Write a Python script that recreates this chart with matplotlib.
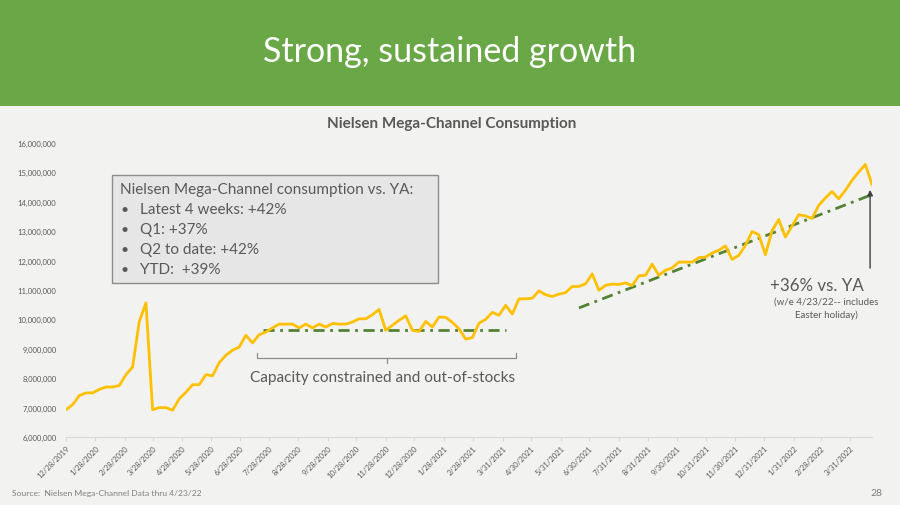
"""
Slide recreation: Nielsen Mega-Channel consumption, weekly.
"""

import matplotlib
matplotlib.use("Agg")
import matplotlib.pyplot as plt
import pandas as pd
from matplotlib.patches import Rectangle

plt.rcParams['font.family'] = ['Lato', 'DejaVu Sans']

# weekly consumption (millions), w/e 12/28/2019 .. 4/23/2022
first_week = "2019-12-28"
consumption_m = [
    6.93, 7.10, 7.41, 7.50, 7.50, 7.62, 7.70, 7.70, 7.75, 8.12,
    8.38, 9.93, 10.56, 6.93, 7.00, 7.00, 6.91, 7.30, 7.52, 7.78,
    7.78, 8.12, 8.08, 8.53, 8.78, 8.95, 9.06, 9.46, 9.20, 9.48,
    9.57, 9.71, 9.84, 9.84, 9.84, 9.71, 9.84, 9.71, 9.84, 9.74,
    9.86, 9.84, 9.84, 9.91, 10.02, 10.02, 10.16, 10.34, 9.63, 9.80,
    9.97, 10.12, 9.63, 9.59, 9.93, 9.74, 10.08, 10.07, 9.90, 9.68,
    9.33, 9.38, 9.87, 10.00, 10.24, 10.14, 10.48, 10.18, 10.70, 10.70,
    10.72, 10.97, 10.84, 10.78, 10.86, 10.91, 11.12, 11.12, 11.21, 11.55,
    10.99, 11.16, 11.20, 11.19, 11.24, 11.15, 11.48, 11.50, 11.88, 11.50,
    11.67, 11.75, 11.95, 11.95, 11.95, 12.10, 12.12, 12.26, 12.35, 12.50,
    12.04, 12.18, 12.52, 12.99, 12.88, 12.20, 13.02, 13.40, 12.80, 13.18,
    13.56, 13.52, 13.43, 13.88, 14.13, 14.35, 14.10, 14.39, 14.73, 15.01,
    15.27, 14.59,
]

tick_dates = [
    "2019-12-28", "2020-01-28", "2020-02-28", "2020-03-28", "2020-04-28",
    "2020-05-28", "2020-06-28", "2020-07-28", "2020-08-28", "2020-09-28",
    "2020-10-28", "2020-11-28", "2020-12-28", "2021-01-28", "2021-02-28",
    "2021-03-31", "2021-04-30", "2021-05-31", "2021-06-30", "2021-07-31",
    "2021-08-31", "2021-09-30", "2021-10-31", "2021-11-30", "2021-12-31",
    "2022-01-31", "2022-02-28", "2022-03-31",
]
y_ticks = [6e6, 7e6, 8e6, 9e6, 10e6, 11e6, 12e6, 13e6, 14e6, 15e6, 16e6]

# dash-dot trend guides
flat_dates = ["2020-07-22", "2021-04-03"]
flat_vals = [9.65e6, 9.65e6]
growth_dates = ["2021-06-19", "2022-04-21"]
growth_vals = [10.39e6, 14.22e6]

box_lines = [
    "Latest 4 weeks: +42%",
    "Q1: +37%",
    "Q2 to date: +42%",
    "YTD:  +39%",
]

W, H = 900, 506
GOLD = "#ffc000"
TREND = "#548235"
GREY = "#595959"

weeks = pd.date_range(first_week, periods=len(consumption_m), freq="7D")
values = [v * 1e6 for v in consumption_m]
ticks = pd.to_datetime(tick_dates)

fig = plt.figure(figsize=(9, 5.06), dpi=100, facecolor="#f2f2f0")

# green header band
fig.add_artist(Rectangle((0, 1 - 107 / H), 1, 107 / H, transform=fig.transFigure,
                         facecolor="#6aa847", edgecolor="none"))

ax = fig.add_axes([66 / W, 68 / H, 806 / W, 294 / H])
ax.set_facecolor("none")
ax.plot(weeks, values, color=GOLD, lw=2.0, solid_joinstyle="round", zorder=3)
ax.plot(pd.to_datetime(flat_dates), flat_vals, color=TREND, lw=2.0,
        linestyle=(0, (4, 2, 1, 2)), zorder=2)
ax.plot(pd.to_datetime(growth_dates), growth_vals, color=TREND, lw=2.0,
        linestyle=(0, (4, 2, 1, 2)), zorder=2)

ax.annotate("", xy=(pd.Timestamp("2022-04-21"), 14.5e6),
            xytext=(pd.Timestamp("2022-04-21"), 11.65e6),
            arrowprops=dict(arrowstyle="-|>", color="#404040", lw=1.0,
                            mutation_scale=8))

ax.set_xlim(weeks[0], weeks[-1])
ax.set_ylim(6e6, 16e6)
ax.set_xticks(ticks)
ax.set_xticklabels([f"{d.month}/{d.day}/{d.year}" for d in ticks], rotation=45,
                   ha="right", rotation_mode="anchor", fontsize=5.5, color=GREY)
ax.set_yticks(y_ticks)
ax.set_yticklabels([f"{int(v):,}" for v in y_ticks], fontsize=5.5, color=GREY)
ax.tick_params(axis="y", length=0, pad=7)
ax.tick_params(axis="x", length=3, color="#d9d9d9", pad=2)
for side in ["top", "right", "left"]:
    ax.spines[side].set_visible(False)
ax.spines["bottom"].set_color("#d9d9d9")
ax.spines["bottom"].set_linewidth(0.8)

# overlay in pixel coordinates for slide text
ov = fig.add_axes([0, 0, 1, 1], zorder=5)
ov.set_xlim(0, W)
ov.set_ylim(H, 0)
ov.axis("off")
ov.patch.set_alpha(0)

ov.text(450, 52, "Strong, sustained growth", color="white", fontsize=24.5,
        ha="center", va="center")
ov.text(452, 124, "Nielsen Mega-Channel Consumption", color=GREY, fontsize=11,
        fontweight="bold", ha="center", va="center")

ov.add_patch(Rectangle((112, 176), 326, 108, facecolor="#e7e6e6",
                       edgecolor="#8c8c8c", lw=1.0))
ov.text(120, 190, "Nielsen Mega-Channel consumption vs. YA:", color=GREY,
        fontsize=11, ha="left", va="center")
for k, line in enumerate(box_lines):
    yy = 210 + 20 * k
    ov.text(121, yy, "•", color=GREY, fontsize=10, ha="left", va="center")
    ov.text(140, yy, line, color=GREY, fontsize=11, ha="left", va="center")

# bracket under the flat period
ov.plot([257, 257, 516, 516], [354, 359, 359, 354], color="#8c8c8c", lw=0.9)
ov.plot([386.5, 386.5], [359, 364], color="#8c8c8c", lw=0.9)
ov.text(383, 378, "Capacity constrained and out-of-stocks", color=GREY,
        fontsize=11.1, ha="center", va="center")

ov.text(817, 286, "+36% vs. YA", color=GREY, fontsize=12.2, ha="center", va="center")
ov.text(826, 302, "(w/e 4/23/22-- includes", color=GREY, fontsize=7,
        ha="center", va="center")
ov.text(826, 315, "Easter holiday)", color=GREY, fontsize=7,
        ha="center", va="center")

ov.text(12, 494, "Source:  Nielsen Mega-Channel Data thru 4/23/22", color="#7f7f7f",
        fontsize=6.1, ha="left", va="center")
ov.text(876, 494, "28", color="#7f7f7f", fontsize=7.5, ha="center", va="center")

fig.savefig("out.png", dpi=100, facecolor=fig.get_facecolor())
plt.close(fig)
